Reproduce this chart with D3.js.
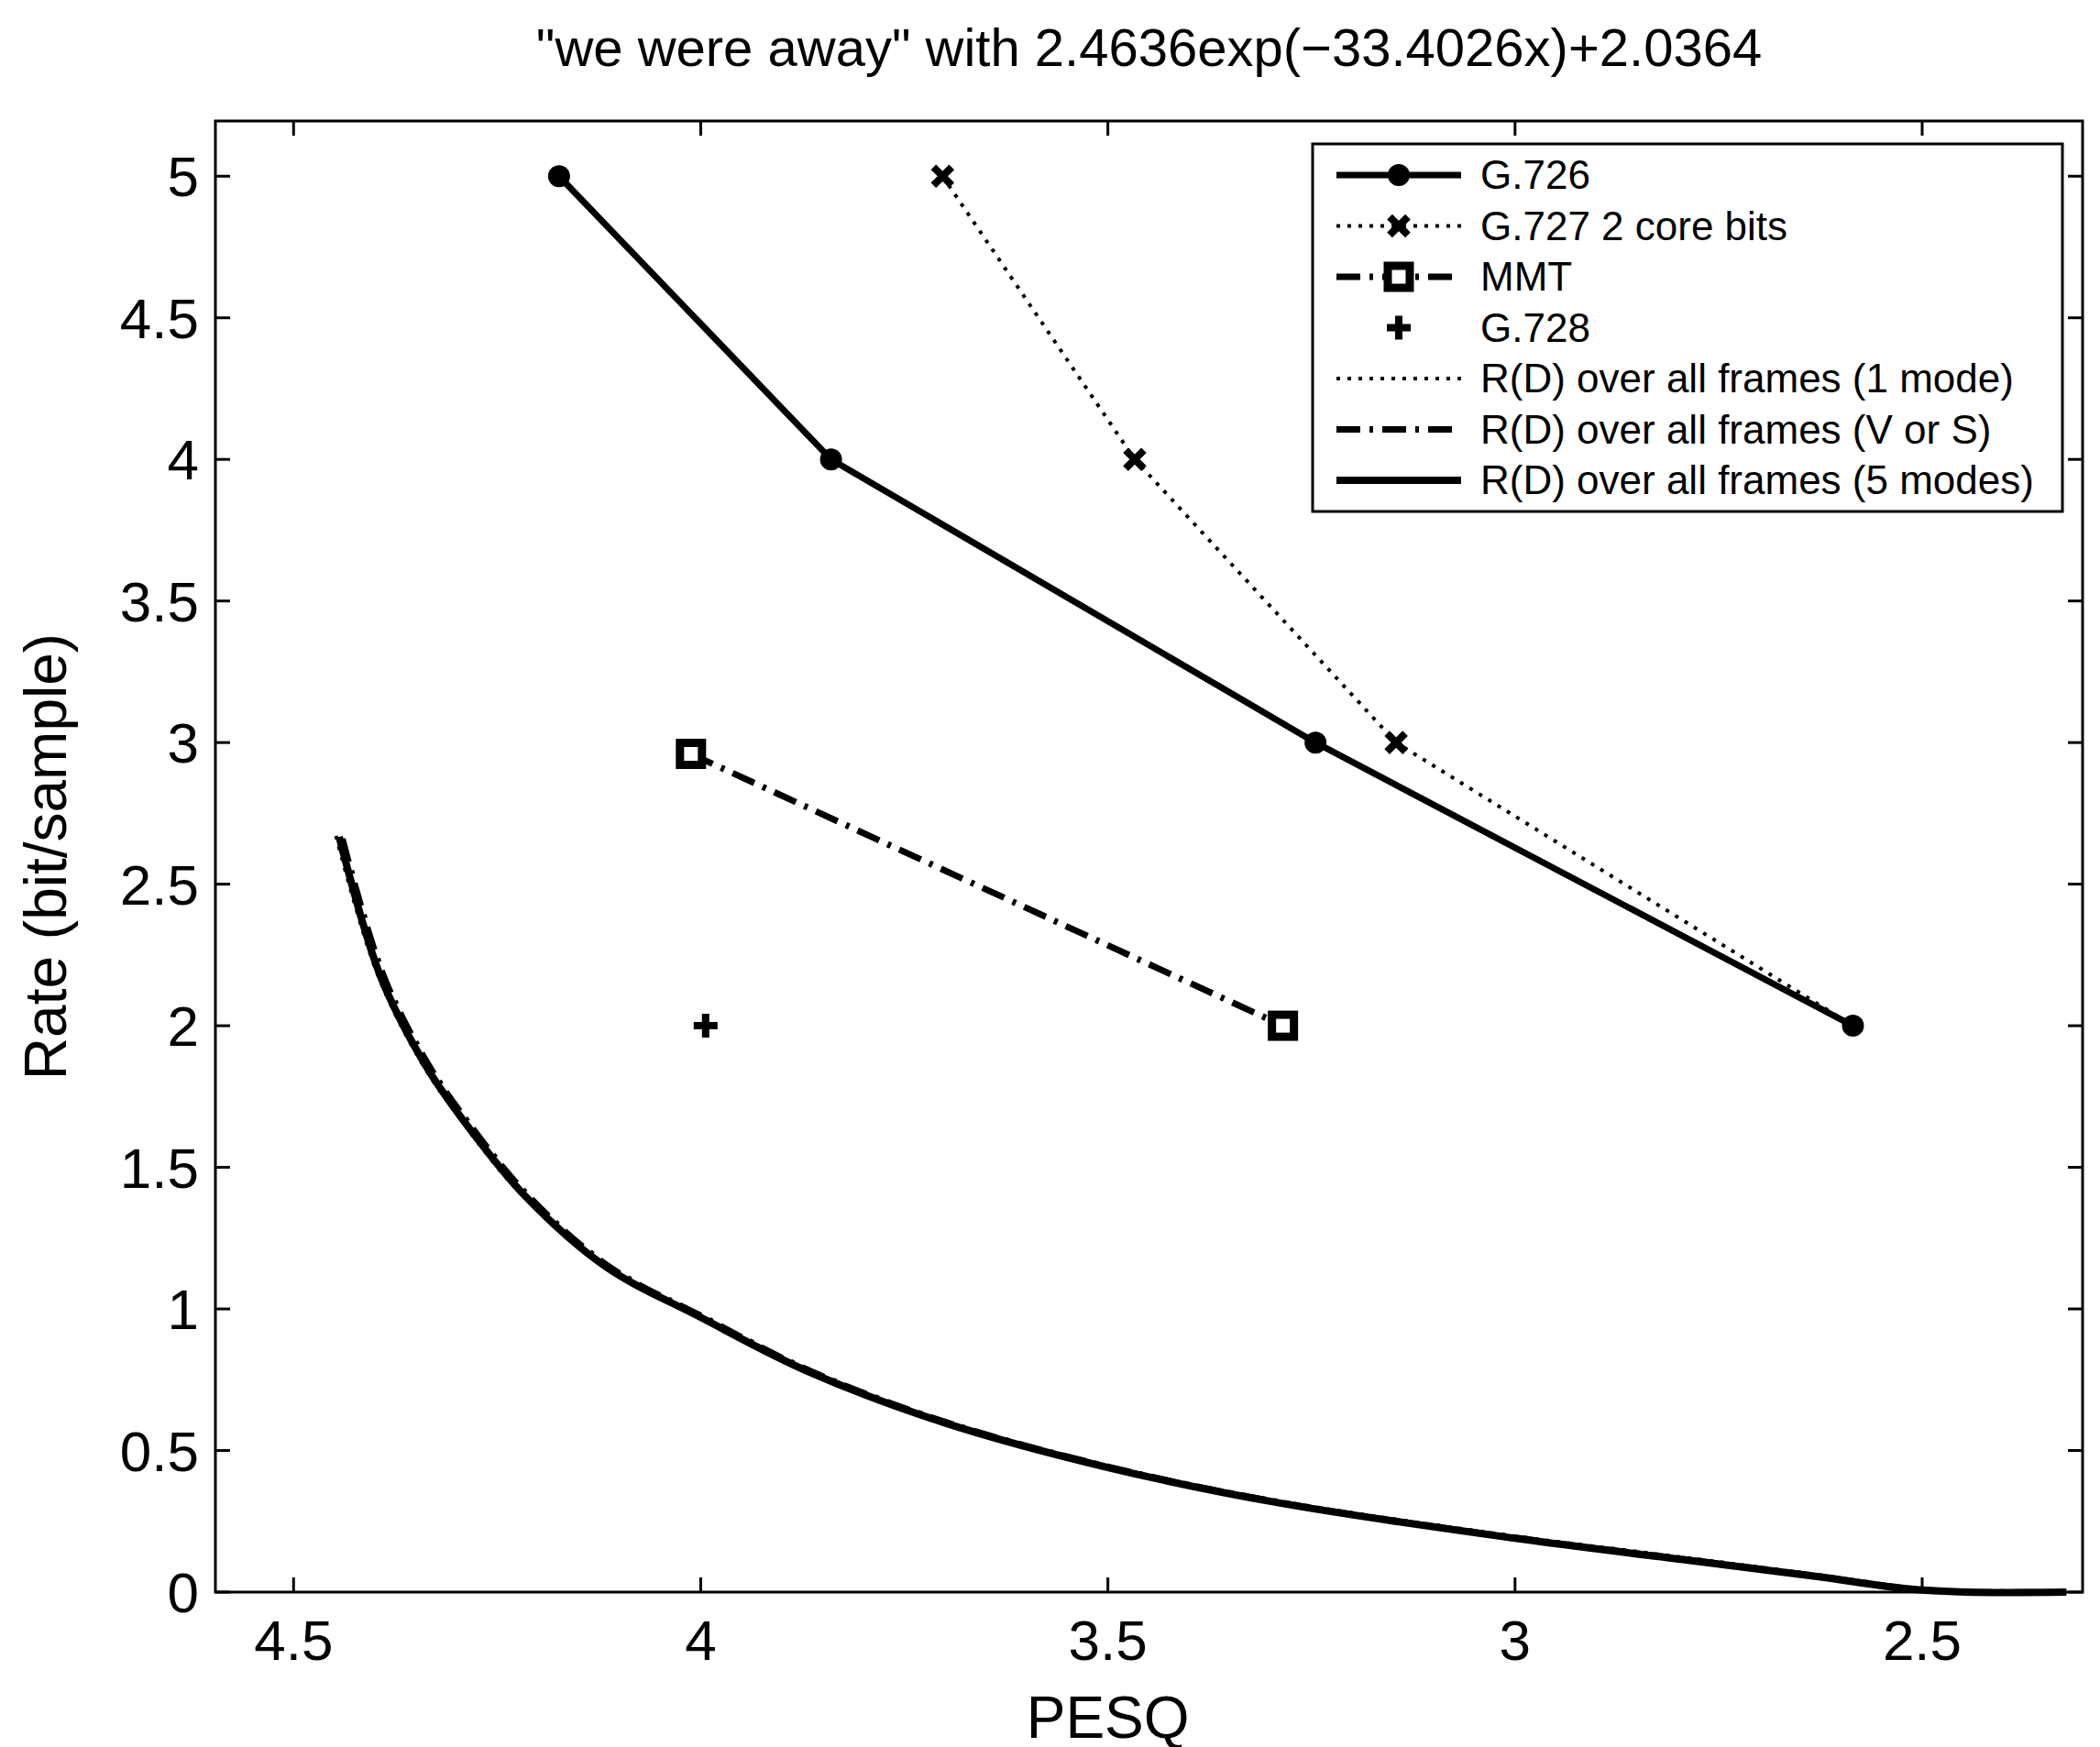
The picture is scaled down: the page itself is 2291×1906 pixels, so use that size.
<!DOCTYPE html>
<html><head><meta charset="utf-8">
<script src="https://cdn.jsdelivr.net/npm/d3@7"></script>
<style>body{margin:0;background:#fff}text{font-family:"Liberation Sans",Arial,sans-serif}</style>
</head><body>
<script>
// series values
const g726 = [[4.174, 5], [3.840, 4], [3.245, 3], [2.585, 2]];
const g727 = [[3.703, 5], [3.467, 4], [3.146, 3], [2.585, 2]];
const mmt = [[4.012, 2.96], [3.285, 2.0]];
const g728 = [[3.994, 2]];
const rd5 = [[4.444, 2.667], [4.394, 2.18], [4.34, 1.87], [4.29, 1.66], [4.216, 1.40], [4.117, 1.15],
  [4.0, 0.97], [3.869, 0.78], [3.703, 0.6], [3.5, 0.44], [3.29, 0.315], [3.0, 0.19],
  [2.794, 0.115], [2.629, 0.055], [2.52, 0.012], [2.447, 0], [2.323, 0]];
const rdVS = [[4.440, 2.66], [4.39, 2.18], [4.336, 1.87], [4.286, 1.66], [4.212, 1.40], [4.113, 1.15],
  [3.996, 0.97], [3.865, 0.78], [3.699, 0.6], [3.496, 0.44], [3.286, 0.315], [2.996, 0.19],
  [2.79, 0.115], [2.625, 0.055], [2.516, 0.012], [2.44, 0], [2.323, 0]];
const rd1 = [[4.448, 2.67], [4.398, 2.19], [4.345, 1.88], [4.295, 1.67], [4.222, 1.41], [4.123, 1.16],
  [4.006, 0.98], [3.875, 0.79], [3.709, 0.61], [3.506, 0.45], [3.296, 0.325], [3.006, 0.2],
  [2.8, 0.125], [2.635, 0.063], [2.525, 0.018], [2.45, 0.004], [2.323, 0]];
const xTicks = [4.5, 4, 3.5, 3, 2.5];
const yTicks = [0, 0.5, 1, 1.5, 2, 2.5, 3, 3.5, 4, 4.5, 5];
const legendLabels = ['G.726', 'G.727 2 core bits', 'MMT', 'G.728',
  'R(D) over all frames (1 mode)', 'R(D) over all frames (V or S)', 'R(D) over all frames (5 modes)'];

const W = 2291, H = 1906;
const m = { left: 235, right: 19, top: 132, bottom: 169 };
const svg = d3.select('body').append('svg').attr('width', W).attr('height', H);

const x = d3.scaleLinear().domain([4.596, 2.303]).range([m.left, W - m.right]);
const y = d3.scaleLinear().domain([0, 5.195]).range([H - m.bottom, m.top]);
const line = d3.line().x(d => x(d[0])).y(d => y(d[1]));
const smooth = d3.line().x(d => x(d[0])).y(d => y(d[1])).curve(d3.curveCatmullRom.alpha(0.5));

const font = '"Liberation Sans Narrow","Liberation Sans",Arial,sans-serif';

// title
svg.append('text').attr('x', (m.left + W - m.right) / 2).attr('y', 72).attr('text-anchor', 'middle')
  .attr('font-size', 58).attr('font-family', font)
  .text('"we were away" with 2.4636exp(\u221233.4026x)+2.0364');

// axes (ticks inside, mirrored on top/right)
const tick = 16;
const ax = svg.append('g').attr('stroke', '#000').attr('stroke-width', 3);
ax.append('rect').attr('x', m.left).attr('y', m.top).attr('width', W - m.left - m.right)
  .attr('height', H - m.top - m.bottom).attr('fill', 'none');
xTicks.forEach(t => {
  ax.append('line').attr('x1', x(t)).attr('x2', x(t)).attr('y1', y.range()[0]).attr('y2', y.range()[0] - tick);
  ax.append('line').attr('x1', x(t)).attr('x2', x(t)).attr('y1', m.top).attr('y2', m.top + tick);
});
yTicks.forEach(t => {
  ax.append('line').attr('x1', m.left).attr('x2', m.left + tick).attr('y1', y(t)).attr('y2', y(t));
  ax.append('line').attr('x1', W - m.right).attr('x2', W - m.right - tick).attr('y1', y(t)).attr('y2', y(t));
});
svg.selectAll('.xt').data(xTicks).join('text').attr('x', d => x(d)).attr('y', H - m.bottom + 74)
  .attr('text-anchor', 'middle').attr('font-size', 62).attr('font-family', font).text(d => d);
svg.selectAll('.yt').data(yTicks).join('text').attr('x', m.left - 18).attr('y', d => y(d) + 22)
  .attr('text-anchor', 'end').attr('font-size', 62).attr('font-family', font).text(d => d);
svg.append('text').attr('x', x(3.5)).attr('y', H - 10).attr('text-anchor', 'middle')
  .attr('font-size', 64).attr('font-family', font).text('PESQ');
svg.append('text').attr('transform', `translate(72,${(m.top + H - m.bottom) / 2}) rotate(-90)`)
  .attr('text-anchor', 'middle').attr('font-size', 64).attr('font-family', font).text('Rate (bit/sample)');

// styles
const styles = {
  g726: { w: 7, dash: null },
  g727: { w: 4, dash: '4,8' },
  mmt: { w: 7, dash: '26,10,4,10' },
  rd1: { w: 4, dash: '4,8' },
  rdVS: { w: 7, dash: '26,10,4,10' },
  rd5: { w: 8, dash: null }
};
const plot = svg.append('g').attr('fill', 'none').attr('stroke', '#000');
function path(data, s, gen) {
  plot.append('path').datum(data).attr('d', gen || line).attr('stroke-width', s.w)
    .attr('stroke-dasharray', s.dash).attr('stroke-linejoin', 'round');
}
path(rd1, styles.rd1, smooth); path(rdVS, styles.rdVS, smooth); path(rd5, styles.rd5, smooth);
path(g727, styles.g727); path(mmt, styles.mmt); path(g726, styles.g726);

function marker(g, type, cx, cy) {
  if (type === 'circle') g.append('circle').attr('cx', cx).attr('cy', cy).attr('r', 12).attr('fill', '#000');
  if (type === 'x') g.append('path').attr('d', d3.symbol(d3.symbolX, 260)()).attr('transform', `translate(${cx},${cy})`)
    .attr('stroke', '#000').attr('stroke-width', 8);
  if (type === 'square') g.append('rect').attr('x', cx - 12).attr('y', cy - 12).attr('width', 24).attr('height', 24)
    .attr('fill', '#fff').attr('stroke', '#000').attr('stroke-width', 9);
  if (type === 'plus') g.append('path').attr('d', `M${cx - 13},${cy}H${cx + 13}M${cx},${cy - 13}V${cy + 13}`)
    .attr('stroke', '#000').attr('stroke-width', 8);
}
const mk = svg.append('g');
g727.slice(0, 3).forEach(d => marker(mk, 'x', x(d[0]), y(d[1])));
g726.forEach(d => marker(mk, 'circle', x(d[0]), y(d[1])));
mmt.forEach(d => marker(mk, 'square', x(d[0]), y(d[1])));
g728.forEach(d => marker(mk, 'plus', x(d[0]), y(d[1])));

// legend
const lg = svg.append('g');
lg.append('rect').attr('x', 1432).attr('y', 157).attr('width', 818).attr('height', 401)
  .attr('fill', '#fff').attr('stroke', '#000').attr('stroke-width', 3);
const legendStyle = [
  [styles.g726, 'circle'], [styles.g727, 'x'], [styles.mmt, 'square'], [null, 'plus'],
  [styles.rd1, null], [styles.rdVS, null], [styles.rd5, null]
];
legendLabels.forEach((lab, i) => {
  const cy = 191 + i * 55.5;
  const [s, mtype] = legendStyle[i];
  if (s) lg.append('line').attr('x1', 1458).attr('x2', 1594).attr('y1', cy).attr('y2', cy)
    .attr('stroke', '#000').attr('stroke-width', s.w).attr('stroke-dasharray', s.dash);
  if (mtype) marker(lg, mtype, 1526, cy);
  lg.append('text').attr('x', 1615).attr('y', cy + 15).attr('font-size', 44).attr('font-family', font).text(lab);
});
</script>
</body></html>
